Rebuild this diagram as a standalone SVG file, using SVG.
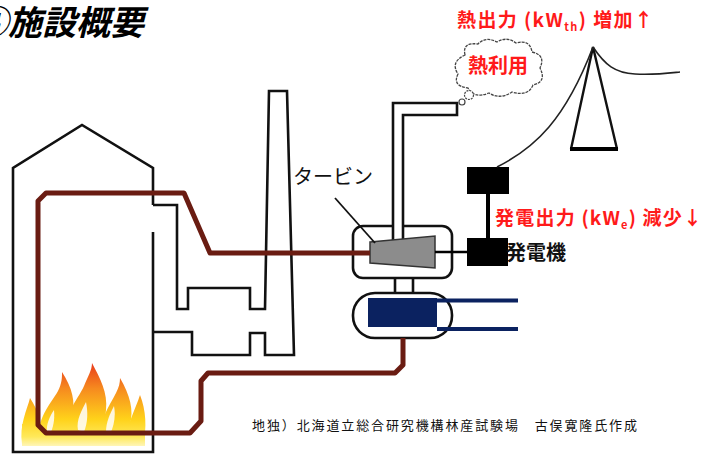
<svg xmlns="http://www.w3.org/2000/svg" width="707" height="455" viewBox="0 0 707 455">
  <style>
    .ln { fill: none; stroke: #111; stroke-width: 2.6; stroke-linejoin: miter; }
    .pipe { fill: none; stroke: #6a1c12; stroke-width: 5; stroke-linejoin: round; }
    .wire { fill: none; stroke: #222; stroke-width: 1.6; }
    .cw { fill: none; stroke: #0b2260; stroke-width: 4; }
    .jp { font-family: "Noto Sans CJK JP", "Noto Sans", sans-serif; }
    .red { fill: #ff1a1a; font-weight: bold; }
  </style>
  <defs>
    <linearGradient id="fireGrad" gradientUnits="userSpaceOnUse" x1="0" y1="362" x2="0" y2="450">
      <stop offset="0" stop-color="#e8381c"/>
      <stop offset="0.3" stop-color="#f68a1f"/>
      <stop offset="0.65" stop-color="#ffd21a"/>
      <stop offset="0.85" stop-color="#ffe95a"/>
      <stop offset="1" stop-color="#fffbe0"/>
    </linearGradient>
  </defs>

  <rect width="707" height="455" fill="#ffffff"/>

  <!-- title: section number runs off the left edge -->
  <text class="jp" x="-26" y="35" font-size="34" font-weight="bold" font-style="italic" fill="#000">④</text>
  <text class="jp" x="8" y="35" font-size="34" font-weight="bold" font-style="italic" fill="#000">施設概要</text>

  <!-- boiler house with the fire -->
  <g id="boiler">
    <g id="fire" fill="url(#fireGrad)">
      <path d="M22,446 L145,446 L145,424 C130,430 112,420 92,428 C72,420 50,430 22,424 Z"/>
      <path d="M70,442 C60,416 78,400 84,386 C88,376 92,370 92,363 C100,378 108,393 106,410 C105,425 100,436 95,442 Z"/>
      <path d="M40,442 C35,420 50,405 58,391 C62,383 62,378 62,372 C72,388 76,401 72,418 C70,430 68,438 66,442 Z"/>
      <path d="M100,442 C98,421 110,405 116,393 C119,387 120,383 120,378 C130,395 134,410 130,425 C128,433 125,438 122,442 Z"/>
      <path d="M22,444 C19,425 27,410 30,398 C38,410 44,426 40,444 Z"/>
      <path d="M124,444 C127,425 135,410 140,395 C146,410 147,428 143,444 Z"/>
      <path d="M52,444 C50,430 56,420 60,410 C64,420 68,432 64,444 Z"/>
      <path d="M82,444 C80,428 84,418 88,408 C92,420 96,432 92,444 Z"/>
    </g>
    <!-- light gaps between the flame tongues -->
    <g fill="#fff" opacity="0.85">
      <path d="M78,430 C76,420 82,410 86,402 C88,412 88,422 84,432 Z"/>
      <path d="M106,432 C106,422 110,414 114,406 C116,416 114,426 110,434 Z"/>
      <path d="M47,432 C46,424 50,416 54,410 C55,420 53,428 50,434 Z"/>
    </g>
    <path class="ln" d="M153,205 L153,168 L82,125 L13,168 L13,452 L153,452 L153,232"/>
  </g>

  <!-- flue ducts and chimney -->
  <g id="chimney">
    <path class="ln" d="M153,205 L177,205 L177,309 L188,309 L188,288 L250,288 L250,309 L265,309 L269,91 L287,91 L294,355 L265,355 L265,333 L250,333 L250,355 L192,355 L192,332 L153,332"/>
  </g>

  <!-- turbine housing -->
  <g id="turbine-housing">
    <rect class="ln" x="353" y="226" width="99" height="52" rx="10"/>
    <line class="ln" x1="395" y1="278" x2="395" y2="293"/>
    <line class="ln" x1="413" y1="278" x2="413" y2="293"/>
  </g>

  <!-- exhaust steam pipe to heat use -->
  <g id="steam-pipe">
    <path d="M393,240 L393,103 L457,103 L457,115 L403,115 L403,240 Z" fill="#fff"/>
    <path class="ln" d="M393,240 L393,103 L457,103 L457,115 L403,115 L403,240"/>
  </g>

  <!-- turbine -->
  <g id="turbine">
    <polygon points="370,242 435,236 435,268 370,263" fill="#8c8c8c" stroke="#333" stroke-width="1.5"/>
  </g>

  <!-- condenser -->
  <g id="condenser">
    <rect class="ln" x="353" y="293" width="99" height="45" rx="22" fill="#fff"/>
    <rect x="368" y="298" width="69" height="29" fill="#0b2260"/>
  </g>

  <!-- generator -->
  <g id="generator">
    <rect x="467" y="167" width="42" height="27" fill="#000"/>
    <rect x="467" y="238" width="41" height="28" fill="#000"/>
    <line x1="488" y1="194" x2="488" y2="238" stroke="#000" stroke-width="4"/>
  </g>

  <!-- transmission tower -->
  <g id="tower">
    <path d="M571,149 L593,47 L617,149" fill="none" stroke="#111" stroke-width="2.4"/>
    <line x1="570" y1="149" x2="618" y2="149" stroke="#000" stroke-width="4"/>
  </g>

  <!-- heat use bubble -->
  <g id="heat-use">
    <path d="M465,55 Q462,42 478,44 Q486,36 497,42 Q507,36 516,43 Q530,39 532,52 Q546,55 540,68 Q547,82 533,85 Q528,97 512,92 Q500,100 489,93 Q474,99 468,88 Q452,86 458,74 Q450,62 465,55 Z" fill="#fff" stroke="#444" stroke-width="1.3" stroke-dasharray="3 1"/>
    <circle cx="469" cy="95" r="4.5" fill="#fff" stroke="#444" stroke-width="1.2" stroke-dasharray="2 1"/>
    <circle cx="462" cy="102" r="3" fill="#fff" stroke="#444" stroke-width="1.2"/>
    <text class="jp red" x="498" y="73" font-size="20" text-anchor="middle">熱利用</text>
  </g>

  <!-- connectors: heat pipe loop, shaft, cooling water, power lines -->
  <g id="connectors">
    <path class="pipe" d="M370,253 L210,253 L184,193 L46,193 L38,201 L38,425 L46,433 L190,433 L201,421 L201,381 L208,373 L395,373 L403,365 L403,338"/>
    <line x1="435" y1="252" x2="468" y2="252" stroke="#000" stroke-width="2.5"/>
    <line class="cw" x1="437" y1="300.5" x2="518" y2="300.5"/>
    <line class="cw" x1="437" y1="329" x2="518" y2="329"/>
    <path class="wire" d="M497,167 C535,148 565,120 593,47"/>
    <path class="wire" d="M593,47 C605,65 615,73 635,74 S670,73 680,72"/>
    <line x1="335" y1="198" x2="375" y2="243" stroke="#111" stroke-width="1.8"/>
  </g>

  <!-- labels -->
  <g id="labels">
    <text class="jp" x="293" y="184" font-size="20" fill="#111">タービン</text>
    <text class="jp" x="506" y="260" font-size="20" font-weight="bold" fill="#111">発電機</text>
    <text class="jp red" x="457" y="27" font-size="19" textLength="196" lengthAdjust="spacing">熱出力 (kW<tspan font-size="11" dy="4">th</tspan><tspan dy="-4">) 増加↑</tspan></text>
    <text class="jp red" x="495" y="225" font-size="19" textLength="207" lengthAdjust="spacing">発電出力 (kW<tspan font-size="11" dy="4">e</tspan><tspan dy="-4">) 減少↓</tspan></text>
    <text class="jp" x="252" y="430" font-size="13" fill="#111" textLength="385" lengthAdjust="spacing">地独）北海道立総合研究機構林産試験場　古俣寛隆氏作成</text>
  </g>
</svg>
